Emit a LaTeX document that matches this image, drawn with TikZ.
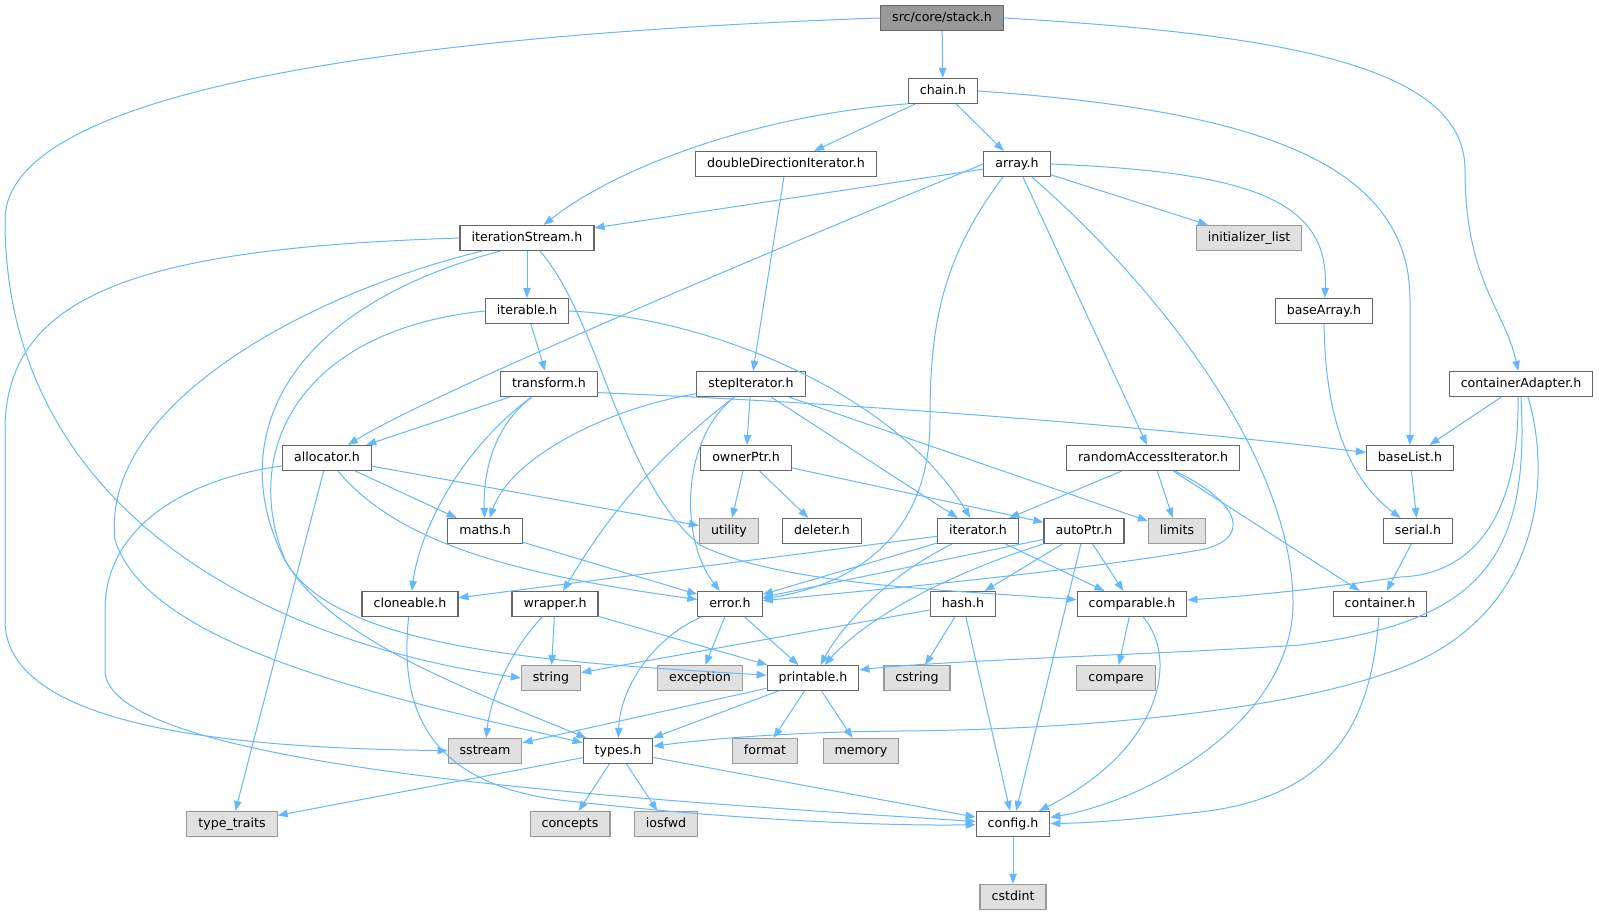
\documentclass[tikz,border=0pt]{standalone}
\usepackage{fontspec}
\setmainfont{DejaVu Sans}
\usetikzlibrary{arrows.meta}
\definecolor{edgec}{HTML}{63B8FF}
\definecolor{bordc}{HTML}{666666}
\definecolor{extb}{HTML}{999999}
\definecolor{extf}{HTML}{E0E0E0}
\definecolor{rootf}{HTML}{999999}
\begin{document}
\begin{tikzpicture}[x=1pt,y=-1pt,
  font=\fontsize{12.6}{15}\selectfont,
  hdr/.style={draw=bordc, fill=white, line width=1.2pt, minimum height=25pt,
    inner xsep=11.5pt, inner ysep=0pt, text height=9.5pt, text depth=2.6pt},
  ext/.style={hdr, draw=extb, fill=extf},
  rootbox/.style={hdr, fill=rootf},
  edge/.style={draw=edgec, line width=1pt, -{Triangle[length=10pt,width=7.5pt]}}]
\fill[white] (0,0) rectangle (1599,916);
\useasboundingbox (0,0) rectangle (1599,916);
% nodes
\node[rootbox] (st) at (942,18) {src/core/stack.h};
\node[hdr] (ch) at (943,91) {chain.h};
\node[hdr] (ddi) at (786,164) {doubleDirectionIterator.h};
\node[hdr] (ar) at (1017,164) {array.h};
\node[hdr] (is) at (527,238) {iterationStream.h};
\node[ext] (il) at (1249,238) {initializer\_list};
\node[hdr] (itb) at (527,311) {iterable.h};
\node[hdr] (ba) at (1324,311) {baseArray.h};
\node[hdr] (tr) at (549,384) {transform.h};
\node[hdr] (si) at (751,384) {stepIterator.h};
\node[hdr] (ca) at (1521,384) {containerAdapter.h};
\node[hdr] (al) at (327,458) {allocator.h};
\node[hdr] (op) at (746,458) {ownerPtr.h};
\node[hdr] (rai) at (1153,458) {randomAccessIterator.h};
\node[hdr] (bl) at (1410,458) {baseList.h};
\node[hdr] (ma) at (485,531) {maths.h};
\node[ext] (ut) at (729,531) {utility};
\node[hdr] (de) at (822,531) {deleter.h};
\node[hdr] (it) at (978,531) {iterator.h};
\node[hdr] (ap) at (1084,531) {autoPtr.h};
\node[ext] (li) at (1177,531) {limits};
\node[hdr] (se) at (1418,531) {serial.h};
\node[hdr] (cl) at (410,604) {cloneable.h};
\node[hdr] (wr) at (555,604) {wrapper.h};
\node[hdr] (er) at (730,604) {error.h};
\node[hdr] (ha) at (963,604) {hash.h};
\node[hdr] (cm) at (1132,604) {comparable.h};
\node[hdr] (co) at (1380,604) {container.h};
\node[ext] (str) at (551,678) {string};
\node[ext] (ex) at (700,678) {exception};
\node[hdr] (pr) at (813,678) {printable.h};
\node[ext] (cs) at (917,678) {cstring};
\node[ext] (cmp) at (1116,678) {compare};
\node[ext] (ss) at (485,751) {sstream};
\node[hdr] (ty) at (618,751) {types.h};
\node[ext] (fo) at (765,751) {format};
\node[ext] (me) at (861,751) {memory};
\node[ext] (tt) at (232,824) {type\_traits};
\node[ext] (cc) at (570,824) {concepts};
\node[ext] (io) at (666,824) {iosfwd};
\node[hdr] (cf) at (1013,824) {config.h};
\node[ext] (ci) at (1013,897) {cstdint};
% edges
\draw[edge] (st) -- (ch);
\draw[edge] (st.west) .. controls (400,35) and (5,90) .. (5,220) .. controls (5,500) and (250,640) .. (str.west);
\draw[edge] (st.east) .. controls (1300,35) and (1465,70) .. (1465,170) .. controls (1465,280) and (1505,310) .. (ca);
\draw[edge] (ch) -- (ddi);
\draw[edge] (ch) -- (ar);
\draw[edge] (ch.200) .. controls (760,115) and (620,165) .. (is);
\draw[edge] (ch.east) .. controls (1250,110) and (1410,160) .. (1410,300) -- (bl);
\draw[edge] (ddi) -- (si);
\draw[edge] (ar) -- (is);
\draw[edge] (ar.west) .. controls (700,280) and (420,400) .. (al);
\draw[edge] ([xshift=-14pt]ar.south) .. controls (940,260) and (930,330) .. (930,420) .. controls (930,540) and (850,585) .. (er);
\draw[edge] ([xshift=15pt]ar.south) .. controls (1150,280) and (1290,450) .. (1293,600) .. controls (1295,720) and (1150,800) .. (cf);
\draw[edge] (ar) -- (il);
\draw[edge] (ar.east) .. controls (1250,172) and (1330,200) .. (ba);
\draw[edge] (ar) -- (rai);
\draw[edge] (is) -- (itb);
\draw[edge] (is.west) .. controls (150,248) and (5,290) .. (5,430) -- (5,620) .. controls (5,720) and (200,748) .. (ss);
\draw[edge] ([xshift=-45pt]is.south) .. controls (320,290) and (100,400) .. (115,540) .. controls (150,650) and (400,700) .. (ty);
\draw[edge] ([xshift=-27pt]is.south) .. controls (280,310) and (230,440) .. (280,550) .. controls (320,650) and (550,662) .. (pr);
\draw[edge] ([xshift=13pt]is.south) .. controls (600,320) and (620,480) .. (700,545) .. controls (780,585) and (950,590) .. (cm);
\draw[edge] (itb) -- (tr);
\draw[edge] (itb.east) .. controls (720,318) and (900,400) .. (it);
\draw[edge] (itb.west) .. controls (300,330) and (240,450) .. (285,560) .. controls (330,640) and (470,690) .. (ty);
\draw[edge] (tr) -- (al);
\draw[edge] (tr) .. controls (495,425) and (483,470) .. (ma);
\draw[edge] (tr) .. controls (460,450) and (420,530) .. (cl);
\draw[edge] (tr.-10) .. controls (900,405) and (1200,432) .. (bl);
\draw[edge] (si.-170) .. controls (600,410) and (510,460) .. (ma);
\draw[edge] (si) .. controls (640,470) and (600,530) .. (wr);
\draw[edge] (si) .. controls (680,440) and (680,540) .. (er);
\draw[edge] (si) -- (op);
\draw[edge] (si) -- (it);
\draw[edge] (si) -- (li);
\draw[edge] (al) -- (tt);
\draw[edge] (al.-170) .. controls (180,480) and (105,530) .. (105,610) -- (105,670) .. controls (105,770) and (650,800) .. (cf);
\draw[edge] (al) .. controls (400,545) and (520,575) .. (er);
\draw[edge] (al) -- (ma);
\draw[edge] (al) -- (ut);
\draw[edge] (op) -- (ut);
\draw[edge] (op) -- (de);
\draw[edge] (op) -- (ap);
\draw[edge] (rai) -- (it);
\draw[edge] (rai) -- (li);
\draw[edge] (rai) -- (co);
\draw[edge] ([xshift=22pt]rai.south) .. controls (1245,505) and (1250,540) .. (1200,550) .. controls (1050,575) and (850,592) .. (er);
\draw[edge] (bl) -- (se);
\draw[edge] (ba) .. controls (1325,420) and (1350,480) .. (se);
\draw[edge] (ca) -- (bl);
\draw[edge] ([xshift=-3pt]ca.south) .. controls (1520,520) and (1470,575) .. (1400,577) .. controls (1300,592) and (1230,597) .. (cm);
\draw[edge] (ca.south) .. controls (1530,560) and (1480,622) .. (1300,645) .. controls (1150,655) and (950,660) .. (pr.10);
\draw[edge] ([xshift=7pt]ca.south) .. controls (1550,470) and (1545,600) .. (1420,660) .. controls (1300,715) and (1050,730) .. (900,731) .. controls (780,732) and (700,740) .. (ty);
\draw[edge] (ma) -- (er);
\draw[edge] (cl) .. controls (400,700) and (420,782) .. (560,800) .. controls (750,822) and (900,826) .. (cf);
\draw[edge] (wr) .. controls (510,650) and (490,700) .. (ss);
\draw[edge] (wr) -- (str);
\draw[edge] (wr) -- (pr);
\draw[edge] (er) .. controls (650,640) and (620,690) .. (ty);
\draw[edge] (er) -- (ex);
\draw[edge] (er) -- (pr);
\draw[edge] (it) -- (cl);
\draw[edge] (it) -- (er);
\draw[edge] (it) .. controls (880,580) and (840,630) .. (pr);
\draw[edge] (it) -- (cm);
\draw[edge] (ap) -- (er);
\draw[edge] (ap) .. controls (930,580) and (860,625) .. (pr);
\draw[edge] (ap) -- (ha);
\draw[edge] (ap) -- (cf);
\draw[edge] (ap) -- (cm);
\draw[edge] (ha) -- (str);
\draw[edge] (ha) -- (cs);
\draw[edge] (ha) -- (cf);
\draw[edge] (cm) -- (cmp);
\draw[edge] (cm) .. controls (1180,660) and (1160,750) .. (cf);
\draw[edge] (co) .. controls (1372,700) and (1350,795) .. (1200,812) .. controls (1130,820) and (1090,823) .. (cf);
\draw[edge] (se) -- (co);
\draw[edge] (pr) -- (ss);
\draw[edge] (pr) -- (ty);
\draw[edge] (pr) -- (fo);
\draw[edge] (pr) -- (me);
\draw[edge] (ty) -- (tt);
\draw[edge] (ty) -- (cc);
\draw[edge] (ty) -- (io);
\draw[edge] (ty) -- (cf);
\draw[edge] (cf) -- (ci);
\end{tikzpicture}
\end{document}
